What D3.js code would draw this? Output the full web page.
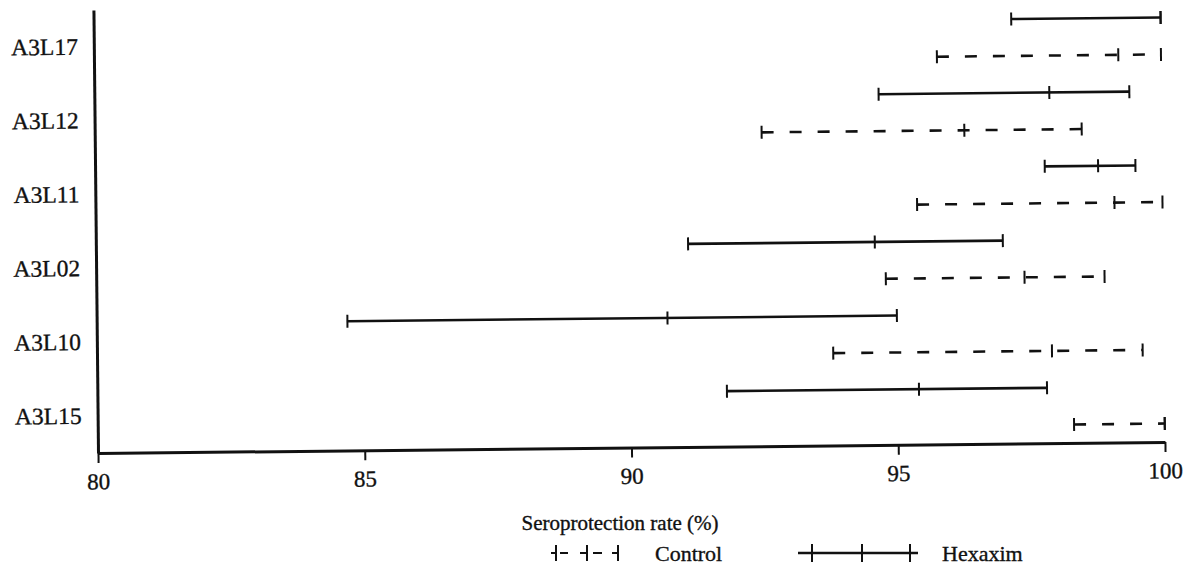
<!DOCTYPE html>
<html>
<head>
<meta charset="utf-8">
<script src="https://cdn.jsdelivr.net/npm/d3@7"></script>
<style>
  html, body { margin: 0; padding: 0; background: #fff; }
  svg { display: block; }
  svg text { font-family: "Liberation Serif", "Times New Roman", Times, Tinos, "DejaVu Serif", "Noto Serif", serif !important; fill: #111; stroke: #111; stroke-width: 0.35px; }
</style>
</head>
<body>
<svg id="chart" width="1186" height="575"></svg>
<script>
// ---- data ----
const categories   = ["A3L17", "A3L12", "A3L11", "A3L02", "A3L10", "A3L15"];
const seriesNames  = ["Hexaxim", "Control"];
const hexaximLow   = [97.2, 94.7, 97.8, 91.1, 84.7, 91.8];
const hexaximEst   = [100.0, 97.9, 98.8, 94.6, 90.7, 95.4];
const hexaximHigh  = [100.0, 99.4, 99.5, 97.0, 95.0, 97.8];
const controlLow   = [95.8, 92.5, 95.4, 94.8, 93.8, 98.3];
const controlEst   = [99.2, 96.3, 99.1, 97.4, 97.9, 100.0];
const controlHigh  = [100.0, 98.5, 100.0, 98.9, 99.6, 100.0];
const xTickValues  = [80, 85, 90, 95, 100];
const xTitle       = "Seroprotection rate (%)";

// ---- build rows ----
const rows = [];
categories.forEach((c, i) => {
  rows.push({cat: c, series: "Hexaxim", lo: hexaximLow[i], est: hexaximEst[i], hi: hexaximHigh[i]});
  rows.push({cat: c, series: "Control", lo: controlLow[i], est: controlEst[i], hi: controlHigh[i]});
});

const FONT = "'Liberation Serif', 'Times New Roman', Times, Tinos, 'DejaVu Serif', 'Noto Serif', serif";
const svg = d3.select("#chart");
const W = 1067, H = 443;
// the scanned figure is slightly tilted
const g = svg.append("g").attr("transform", "translate(98,453) rotate(-0.59)");

const x = d3.scaleLinear().domain([80, 100]).range([0, W]);
const y = d3.scaleBand().domain(categories).range([-H, 0]);
const sub = d3.scaleBand().domain(seriesNames).range([0, y.bandwidth()]);

// axes
const xAxis = g.append("g")
  .call(d3.axisBottom(x).tickValues(xTickValues).tickFormat(d3.format("d"))
        .tickSize(10).tickPadding(10).tickSizeOuter(0));
xAxis.attr("font-family", FONT);
xAxis.select(".domain").attr("stroke", "#111").attr("stroke-width", 3);
xAxis.selectAll(".tick line").attr("stroke", "#111").attr("stroke-width", 2);
xAxis.selectAll(".tick text").attr("font-size", 23).attr("font-family", FONT).attr("fill", "#111");

const yAxis = g.append("g")
  .call(d3.axisLeft(y).tickSize(0).tickPadding(16).tickSizeOuter(0));
yAxis.attr("font-family", FONT);
yAxis.select(".domain").attr("stroke", "#111").attr("stroke-width", 3);
yAxis.selectAll(".tick text").attr("font-size", 23.5).attr("font-family", FONT).attr("fill", "#111");

// interval bars
const capH = 6.5;
const bars = g.append("g").selectAll("g.bar").data(rows).join("g").attr("class", "bar")
  .attr("transform", d => `translate(0,${y(d.cat) + sub(d.series) + sub.bandwidth() / 2})`);

bars.append("line")
  .attr("x1", d => x(d.lo)).attr("x2", d => x(d.hi))
  .attr("y1", 0).attr("y2", 0)
  .attr("stroke", "#111").attr("stroke-width", 2.6)
  .attr("stroke-dasharray", d => d.series === "Control" ? "12,16" : null);

bars.selectAll("line.cap").data(d => [d.lo, d.est, d.hi]).join("line").attr("class", "cap")
  .attr("x1", v => x(v)).attr("x2", v => x(v))
  .attr("y1", -capH).attr("y2", capH)
  .attr("stroke", "#111").attr("stroke-width", 2);

// axis title
svg.append("text")
  .attr("x", 620).attr("y", 523).attr("dy", "0.35em")
  .attr("text-anchor", "middle")
  .attr("font-family", FONT)
  .attr("font-size", 21)
  .text(xTitle);

// legend
const legY = 553;
const leg = svg.append("g").attr("font-family", FONT);
// Control: "┤ – ┤ – ┤"
leg.append("line").attr("x1", 551).attr("x2", 618).attr("y1", legY).attr("y2", legY)
  .attr("stroke", "#111").attr("stroke-width", 2.2).attr("stroke-dasharray", "5,4,8,12,7,6,9,10,7");
[556, 587, 618].forEach(px => {
  leg.append("line").attr("x1", px).attr("x2", px).attr("y1", legY - 8).attr("y2", legY + 8)
    .attr("stroke", "#111").attr("stroke-width", 2);
});
leg.append("text").attr("x", 655).attr("y", legY).attr("dy", "0.35em")
  .attr("font-size", 22).text("Control");
// Hexaxim
leg.append("line").attr("x1", 798).attr("x2", 918).attr("y1", legY).attr("y2", legY)
  .attr("stroke", "#111").attr("stroke-width", 2.4);
[812, 862, 910].forEach(px => {
  leg.append("line").attr("x1", px).attr("x2", px).attr("y1", legY - 9).attr("y2", legY + 9)
    .attr("stroke", "#111").attr("stroke-width", 2);
});
leg.append("text").attr("x", 942).attr("y", legY).attr("dy", "0.35em")
  .attr("font-size", 22).text("Hexaxim");
</script>
</body>
</html>
